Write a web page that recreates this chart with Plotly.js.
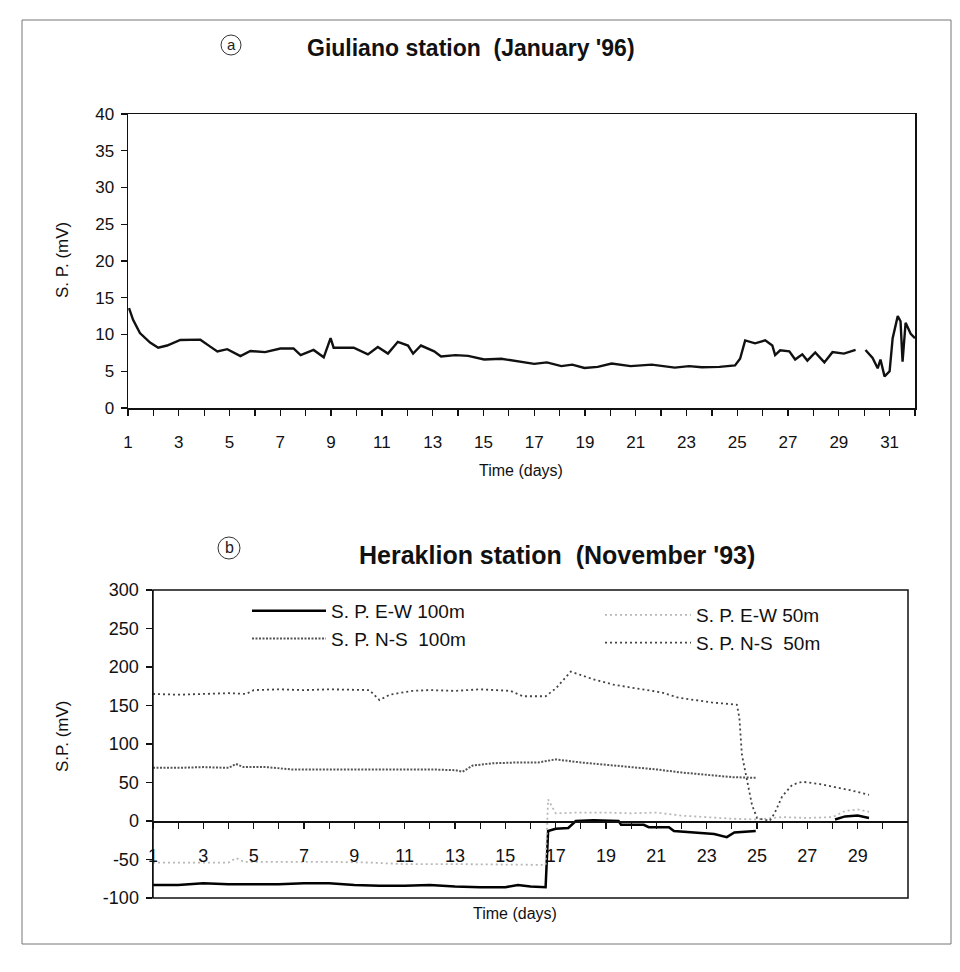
<!DOCTYPE html>
<html><head><meta charset="utf-8">
<script src="https://cdn.plot.ly/plotly-3.0.1.min.js"></script>
<style>html,body{margin:0;padding:0;background:#fff}#chart{width:960px;height:972px}</style>
</head><body><div id="chart"></div>
<script>
// ---------- Panel a : Giuliano station (January '96) ----------
const giulianoDays = [1.04,1.2,1.47,1.87,2.19,2.54,3.06,3.85,4.24,4.52,4.91,5.43,5.82,6.4,7.0,7.52,7.8,8.31,8.71,8.98,9.1,9.89,10.45,10.84,11.24,11.63,12.03,12.23,12.54,13.06,13.33,13.9,14.4,15.03,15.7,16.38,17.0,17.5,18.07,18.5,18.98,19.5,20.05,20.8,21.63,22.54,23.1,23.6,24.3,24.91,25.11,25.31,25.7,26.1,26.38,26.49,26.69,27.05,27.28,27.56,27.76,28.07,28.43,28.75,29.2,29.66,29.85,30.05,30.33,30.53,30.64,30.8,31.0,31.12,31.32,31.43,31.51,31.63,31.83,32.0];
const giulianoSP = [13.6,12.0,10.2,8.9,8.2,8.5,9.25,9.3,8.35,7.7,8.0,7.05,7.75,7.6,8.1,8.1,7.2,7.9,6.9,9.5,8.2,8.2,7.3,8.3,7.4,9.0,8.5,7.4,8.5,7.7,7.0,7.2,7.1,6.6,6.7,6.3,6.0,6.2,5.7,5.9,5.45,5.6,6.05,5.7,5.9,5.5,5.7,5.55,5.6,5.8,6.7,9.2,8.8,9.2,8.5,7.2,7.85,7.7,6.6,7.3,6.45,7.55,6.2,7.6,7.4,7.9,null,7.9,6.8,5.4,6.6,4.3,5.0,9.5,12.5,11.8,6.3,11.6,10.1,9.5];
const giulianoTickVals = [1,2,3,4,5,6,7,8,9,10,11,12,13,14,15,16,17,18,19,20,21,22,23,24,25,26,27,28,29,30,31,32];
const giulianoTickText = ['1','','3','','5','','7','','9','','11','','13','','15','','17','','19','','21','','23','','25','','27','','29','','31',''];

// ---------- Panel b : Heraklion station (November '93) ----------
const ew100Days = [1,2,3,4,5,6,7,8,9,10,11,12,13,14,15,15.5,16,16.6,16.7,17.0,17.5,17.8,18.5,19.5,19.6,20.5,20.7,21.5,21.7,22.5,23.3,23.8,24.1,24.95,26.5,28.1,28.5,29.0,29.45];
const ew100SP  = [-83,-83,-81,-82,-82,-82,-81,-81,-83,-84,-84,-83,-85,-86,-86,-83,-85,-86,-13,-10,-9,0,1,0,-5,-5,-8,-8,-13,-15,-17,-21,-15,-13,null,2,6,7,4];
const ns100Days = [1,2,3,4,4.3,4.6,5.5,6.5,8,9,10,11,12,13,13.3,13.7,14.5,15.5,16.3,17,18,19,20,21,22,23,24,25];
const ns100SP  = [69,69,70,69,74,70,70,67,67,67,67,67,67,66,64,72,75,76,76,80,76,73,70,67,63,60,57,56];
const ew50Days = [1,2,3,4.0,4.3,4.6,6,8,9.6,11,13,15,16.6,16.7,17.0,18,19,20,21,22,23,24,25,26,27,28,28.5,29,29.45];
const ew50SP  = [-54,-54,-54,-54,-48,-53,-53,-53,-54,-56,-56,-57,-57,28,10,11,11,10,11,7,5,3,2,5,4,5,13,15,12];
const ns50Days = [1,2,3,4,4.7,5,6,7,8,9.6,10,10.4,11.3,12,13,14,15.2,15.7,16.6,17.0,17.6,18.5,19.3,20,21.2,21.9,23.2,24.2,24.3,24.4,24.6,24.8,25.0,25.5,25.7,26.0,26.4,26.8,27.5,28.0,28.7,29.45];
const ns50SP  = [165,164,165,166,165,170,171,170,171,170,157,164,169,170,169,171,169,162,162,172,194,184,177,173,167,160,154,151,134,86,51,21,4,0,10,32,47,51,48,45,40,34];
const heraklionTickVals = [1,2,3,4,5,6,7,8,9,10,11,12,13,14,15,16,17,18,19,20,21,22,23,24,25,26,27,28,29,30];
const heraklionTickText = ['1','','3','','5','','7','','9','','11','','13','','15','','17','','19','','21','','23','','25','','27','','29',''];
const heraklionYTickVals = [-100,-50,0,50,100,150,200,250,300];
const heraklionYTickText = ['-100','-50','0','50','100','150','200','250','300'];

const W = 960, H = 972;
const fx = p => p / W;
const fy = p => 1 - p / H;
const FONT = 'Liberation Sans, Arial, Helvetica, sans-serif';

const xDomA = [fx(128), fx(915)], yDomA = [fy(408), fy(114)];
const xDomB = [fx(153), fx(908)], yDomB = [fy(898), fy(590)];
const yRangeB = [-100, 300];
const zeroPosB = yDomB[0] + (0 - yRangeB[0]) / (yRangeB[1] - yRangeB[0]) * (yDomB[1] - yDomB[0]);

const traces = [
  {x: giulianoDays, y: giulianoSP, xaxis: 'x', yaxis: 'y', mode: 'lines', showlegend: false,
   line: {color: '#111', width: 2.4}, connectgaps: false},
  {x: ew100Days, y: ew100SP, xaxis: 'x2', yaxis: 'y2', mode: 'lines', name: 'S. P. E-W 100m',
   legend: 'legend', line: {color: '#000', width: 2.5}, connectgaps: false},
  {x: ns100Days, y: ns100SP, xaxis: 'x2', yaxis: 'y2', mode: 'lines', name: 'S. P. N-S  100m',
   legend: 'legend', line: {color: '#555', width: 2, dash: '2px,1.5px'}},
  {x: ew50Days, y: ew50SP, xaxis: 'x2', yaxis: 'y2', mode: 'lines', name: 'S. P. E-W 50m',
   legend: 'legend2', line: {color: '#b8b8b8', width: 1.8, dash: '2px,3px'}},
  {x: ns50Days, y: ns50SP, xaxis: 'x2', yaxis: 'y2', mode: 'lines', name: 'S. P. N-S  50m',
   legend: 'legend2', line: {color: '#444', width: 1.8, dash: '2px,3px'}}
];

const axLine = {showline: true, linecolor: '#111', linewidth: 1.5, showgrid: false, zeroline: false,
  tickcolor: '#111', tickwidth: 1.3, ticklen: 6, tickfont: {family: FONT, size: 17, color: '#111'}};

const layout = {
  width: W, height: H,
  margin: {l: 0, r: 0, t: 0, b: 0},
  paper_bgcolor: '#fff', plot_bgcolor: 'rgba(0,0,0,0)',
  font: {family: FONT, color: '#111'},
  xaxis: Object.assign({}, axLine, {domain: xDomA, range: [1, 32], anchor: 'y', mirror: true,
    ticks: 'outside', tickmode: 'array', tickvals: giulianoTickVals, ticktext: giulianoTickText,
    ticklabelstandoff: 12}),
  xaxis3: {domain: xDomA, range: [1, 32], anchor: 'y', overlaying: 'x', showline: false, showgrid: false,
    zeroline: false, ticks: 'inside', ticklen: 6, tickwidth: 1.3, tickcolor: '#111',
    tickmode: 'array', tickvals: giulianoTickVals, showticklabels: false},
  yaxis: Object.assign({}, axLine, {domain: yDomA, range: [0, 40], dtick: 5, anchor: 'x', mirror: true,
    ticks: 'outside', ticklabelstandoff: 3}),
  xaxis2: Object.assign({}, axLine, {domain: xDomB, range: [1, 31], anchor: 'free', position: zeroPosB,
    ticks: 'outside', tickmode: 'array', tickvals: heraklionTickVals, ticktext: heraklionTickText,
    ticklabelstandoff: 12, tickfont: {family: FONT, size: 18, color: '#111'}}),
  xaxis4: {domain: xDomB, range: [1, 31], anchor: 'free', position: zeroPosB, overlaying: 'x2',
    showline: false, showgrid: false, zeroline: false, ticks: 'inside', ticklen: 6, tickwidth: 1.3,
    tickcolor: '#111', tickmode: 'array', tickvals: heraklionTickVals, showticklabels: false},
  yaxis2: Object.assign({}, axLine, {domain: yDomB, range: yRangeB, anchor: 'x2',
    tickmode: 'array', tickvals: heraklionYTickVals, ticktext: heraklionYTickText,
    ticks: 'outside', ticklabelstandoff: 3, tickfont: {family: FONT, size: 18, color: '#111'}}),
  legend: {x: fx(247), y: fy(592), xanchor: 'left', yanchor: 'top', bgcolor: 'rgba(0,0,0,0)',
    font: {family: FONT, size: 19, color: '#111'}, itemwidth: 74, tracegroupgap: 0, traceorder: 'normal'},
  legend2: {x: fx(600), y: fy(596), xanchor: 'left', yanchor: 'top', bgcolor: 'rgba(0,0,0,0)',
    font: {family: FONT, size: 19, color: '#111'}, itemwidth: 86, tracegroupgap: 0, traceorder: 'normal'},
  shapes: [
    {type: 'rect', xref: 'paper', yref: 'paper', x0: fx(22), x1: fx(951), y0: fy(944), y1: fy(20),
     line: {color: '#777', width: 1}},
    {type: 'rect', xref: 'x2 domain', yref: 'y2 domain', x0: 0, x1: 1, y0: 0, y1: 1,
     line: {color: '#111', width: 1.5}},
    {type: 'circle', xref: 'paper', yref: 'paper', x0: fx(221), x1: fx(241), y0: fy(55), y1: fy(35),
     line: {color: '#333', width: 1}},
    {type: 'circle', xref: 'paper', yref: 'paper', x0: fx(218), x1: fx(240), y0: fy(559), y1: fy(537),
     line: {color: '#333', width: 1}}
  ],
  annotations: [
    {text: "<b>Giuliano station  (January '96)</b>", xref: 'paper', yref: 'paper', x: fx(471), y: fy(48),
     xanchor: 'center', yanchor: 'middle', showarrow: false, font: {family: FONT, size: 23, color: '#111'}},
    {text: "<b>Heraklion station  (November '93)</b>", xref: 'paper', yref: 'paper', x: fx(557), y: fy(555),
     xanchor: 'center', yanchor: 'middle', showarrow: false, font: {family: FONT, size: 25, color: '#111'}},
    {text: 'a', xref: 'paper', yref: 'paper', x: fx(231), y: fy(44), xanchor: 'center', yanchor: 'middle',
     showarrow: false, font: {family: FONT, size: 15, color: '#222'}},
    {text: 'b', xref: 'paper', yref: 'paper', x: fx(229), y: fy(547), xanchor: 'center', yanchor: 'middle',
     showarrow: false, font: {family: FONT, size: 16, color: '#222'}},
    {text: 'Time (days)', xref: 'paper', yref: 'paper', x: fx(521), y: fy(470), xanchor: 'center', yanchor: 'middle',
     showarrow: false, font: {family: FONT, size: 16, color: '#111'}},
    {text: 'Time (days)', xref: 'paper', yref: 'paper', x: fx(515), y: fy(913), xanchor: 'center', yanchor: 'middle',
     showarrow: false, font: {family: FONT, size: 16, color: '#111'}},
    {text: 'S. P. (mV)', xref: 'paper', yref: 'paper', x: fx(62), y: fy(260), xanchor: 'center', yanchor: 'middle',
     textangle: -90, showarrow: false, font: {family: FONT, size: 17, color: '#111'}},
    {text: 'S.P. (mV)', xref: 'paper', yref: 'paper', x: fx(62), y: fy(737), xanchor: 'center', yanchor: 'middle',
     textangle: -90, showarrow: false, font: {family: FONT, size: 17, color: '#111'}}
  ]
};

Plotly.newPlot('chart', traces, layout, {displayModeBar: false, staticPlot: true});
</script>
</body></html>
